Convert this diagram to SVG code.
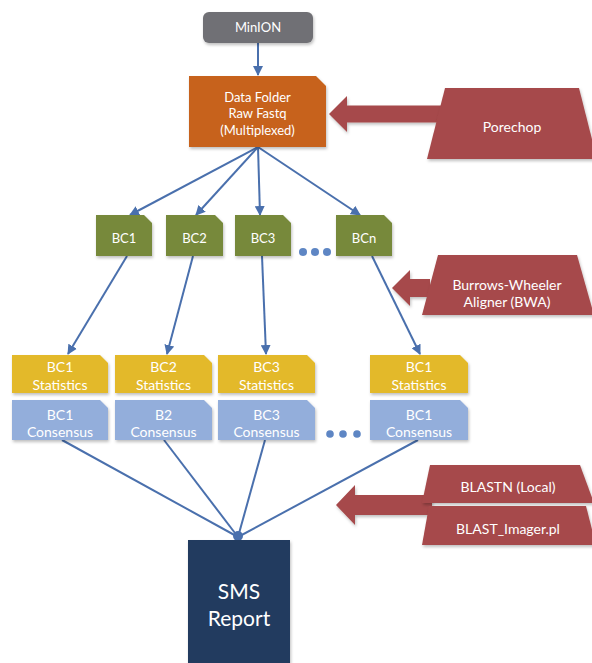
<svg xmlns="http://www.w3.org/2000/svg" width="592" height="663" viewBox="0 0 592 663">
<defs>
<marker id="ah" markerUnits="userSpaceOnUse" markerWidth="10" markerHeight="10" viewBox="0 0 10 10" refX="9" refY="5" orient="auto">
<path d="M0,0 L10,5 L0,10 Z" fill="#4a70ad"/>
</marker>
<filter id="sh" x="-10%" y="-10%" width="130%" height="130%">
<feDropShadow dx="1" dy="2" stdDeviation="1.5" flood-color="#000" flood-opacity="0.25"/>
</filter>
</defs>
<style>
.t{font-family:Lato,"Open Sans","Liberation Sans",sans-serif;fill:#fff;text-anchor:middle;font-size:14px}
.s{font-size:13px}
.big{font-size:21px}
.ln{stroke:#4a70ad;stroke-width:2;fill:none}
.red{fill:#a64a4b;filter:url(#sh)}
.bc{fill:#77893a;filter:url(#sh)}
.st{fill:#e3b92b;filter:url(#sh)}
.cs{fill:#93aedb;filter:url(#sh)}
.dot{fill:#5e86c4}
</style>

<g id="connectors">
<line class="ln" x1="258" y1="43" x2="258" y2="75" marker-end="url(#ah)"/>
<line class="ln" x1="258" y1="147" x2="130" y2="215" marker-end="url(#ah)"/>
<line class="ln" x1="258" y1="147" x2="196" y2="215" marker-end="url(#ah)"/>
<line class="ln" x1="258" y1="147" x2="260" y2="215" marker-end="url(#ah)"/>
<line class="ln" x1="258" y1="147" x2="360" y2="215" marker-end="url(#ah)"/>
<line class="ln" x1="127" y1="256" x2="68" y2="354" marker-end="url(#ah)"/>
<line class="ln" x1="193" y1="256" x2="167" y2="354" marker-end="url(#ah)"/>
<line class="ln" x1="262" y1="256" x2="266" y2="354" marker-end="url(#ah)"/>
<line class="ln" x1="372" y1="256" x2="420" y2="354" marker-end="url(#ah)"/>
<line class="ln" x1="62" y1="440" x2="238" y2="537"/>
<line class="ln" x1="164" y1="440" x2="238" y2="537"/>
<line class="ln" x1="265" y1="440" x2="238" y2="537"/>
<line class="ln" x1="418" y1="440" x2="238" y2="537"/>
<circle cx="238" cy="536" r="5" fill="#4a70ad"/>
</g>

<g id="arrow-porechop">
<path class="red" d="M329,114 L347,96 L347,105.5 L446,105.5 L446,122.5 L347,122.5 L347,132 Z"/>
</g>
<g id="arrow-bwa">
<path class="red" d="M392,288 L410,270 L410,279 L430,279 L430,297 L410,297 L410,306 Z"/>
</g>
<g id="arrow-blast">
<path class="red" d="M336,505 L355,485 L355,495 L432,495 L432,515 L355,515 L355,525 Z"/>
</g>

<g id="minion">
<rect x="203" y="12" width="110" height="31" rx="6" fill="#707074" filter="url(#sh)"/>
<text class="t s" x="258" y="32">MinION</text>
</g>

<g id="datafolder">
<path d="M189,76 H316 L326,86 V147 H189 Z" fill="#c7621c" filter="url(#sh)"/>
<text class="t s" x="257.5" y="102">Data Folder</text>
<text class="t s" x="257.5" y="118">Raw Fastq</text>
<text class="t s" x="257.5" y="135">(Multiplexed)</text>
</g>

<g id="porechop">
<path class="red" d="M445,88 H579 L597,159 H427 Z"/>
<text class="t" x="512" y="132">Porechop</text>
</g>

<g id="bc1">
<path class="bc" d="M96,215 H144 L152,223 V256 H96 Z"/>
<text class="t s" x="124" y="243">BC1</text>
</g>
<g id="bc2">
<path class="bc" d="M166,215 H215 L223,223 V256 H166 Z"/>
<text class="t s" x="194.5" y="243">BC2</text>
</g>
<g id="bc3">
<path class="bc" d="M235,215 H283 L291,223 V256 H235 Z"/>
<text class="t s" x="263" y="243">BC3</text>
</g>
<g id="bc-dots">
<circle class="dot" cx="303" cy="252" r="4"/>
<circle class="dot" cx="315" cy="252" r="4"/>
<circle class="dot" cx="327" cy="252" r="4"/>
</g>
<g id="bcn">
<path class="bc" d="M336,215 H384 L392,223 V256 H336 Z"/>
<text class="t s" x="364" y="243">BCn</text>
</g>

<g id="bwa">
<path class="red" d="M438,255 H577 L594,315 H422 Z"/>
<text class="t" x="507" y="290">Burrows-Wheeler</text>
<text class="t" x="507" y="307">Aligner (BWA)</text>
</g>

<g id="stat1">
<path class="st" d="M12,355 H100 L108,363 V393 H12 Z"/>
<text class="t" x="60" y="372">BC1</text>
<text class="t" x="60" y="390">Statistics</text>
</g>
<g id="stat2">
<path class="st" d="M115,355 H204 L212,363 V393 H115 Z"/>
<text class="t" x="163.5" y="372">BC2</text>
<text class="t" x="163.5" y="390">Statistics</text>
</g>
<g id="stat3">
<path class="st" d="M218,355 H307 L315,363 V393 H218 Z"/>
<text class="t" x="266.5" y="372">BC3</text>
<text class="t" x="266.5" y="390">Statistics</text>
</g>
<g id="stat4">
<path class="st" d="M370,355 H460 L468,363 V393 H370 Z"/>
<text class="t" x="419" y="372">BC1</text>
<text class="t" x="419" y="390">Statistics</text>
</g>

<g id="cons1">
<path class="cs" d="M12,400 H100 L108,408 V440 H12 Z"/>
<text class="t" x="60" y="420">BC1</text>
<text class="t" x="60" y="437">Consensus</text>
</g>
<g id="cons2">
<path class="cs" d="M115,400 H204 L212,408 V440 H115 Z"/>
<text class="t" x="163.5" y="420">B2</text>
<text class="t" x="163.5" y="437">Consensus</text>
</g>
<g id="cons3">
<path class="cs" d="M218,400 H307 L315,408 V440 H218 Z"/>
<text class="t" x="266.5" y="420">BC3</text>
<text class="t" x="266.5" y="437">Consensus</text>
</g>
<g id="cons-dots">
<circle class="dot" cx="330" cy="434" r="3.8"/>
<circle class="dot" cx="343" cy="434" r="3.8"/>
<circle class="dot" cx="357" cy="434" r="3.8"/>
</g>
<g id="cons4">
<path class="cs" d="M370,400 H460 L468,408 V440 H370 Z"/>
<text class="t" x="419" y="420">BC1</text>
<text class="t" x="419" y="437">Consensus</text>
</g>

<g id="blastn">
<path class="red" d="M430,465 H580 L594,503 H422 Z"/>
<text class="t" x="508" y="492">BLASTN (Local)</text>
</g>
<g id="blastimager">
<path class="red" d="M429,506 H586 L596,545 H422 Z"/>
<text class="t" x="508" y="534">BLAST_Imager.pl</text>
</g>

<g id="sms">
<rect x="188" y="540" width="102" height="130" fill="#213a5f" filter="url(#sh)"/>
<text class="t big" x="239" y="599">SMS</text>
<text class="t big" x="239" y="626">Report</text>
</g>
</svg>
